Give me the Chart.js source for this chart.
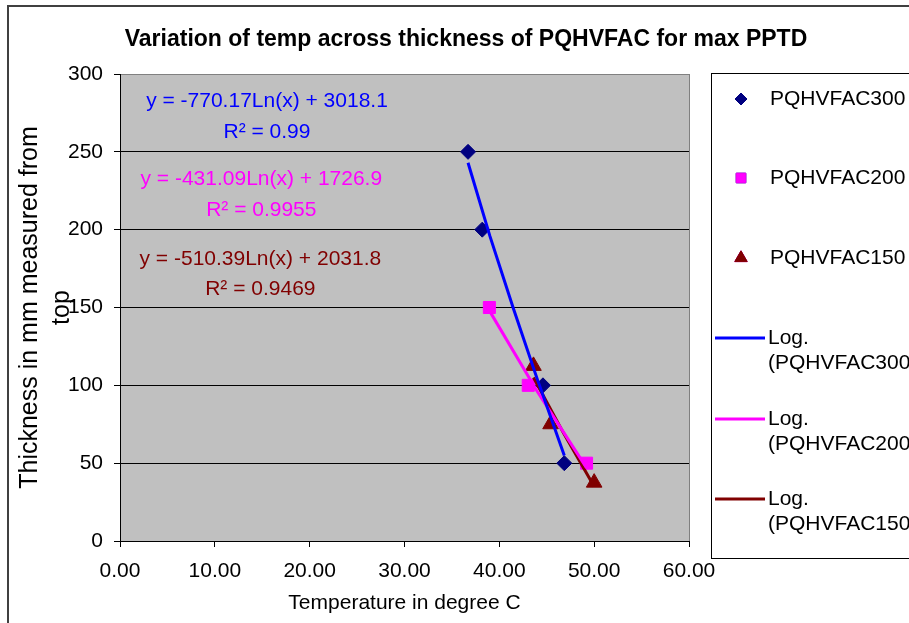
<!DOCTYPE html>
<html lang="en">
<head>
<meta charset="UTF-8">
<title>Variation of temp across thickness of PQHVFAC for max PPTD</title>
<script src="https://cdn.jsdelivr.net/npm/chart.js@4.4.0/dist/chart.umd.min.js"></script>
<style>
    body { margin: 0; background: #fff; }
    #wrap { width: 909px; height: 623px; }
</style>
</head>
<body>
<div id="wrap"><canvas id="chart" width="909" height="623"></canvas></div>
<script>
// measured points (temperature in degree C, depth in mm)
const temp300 = [36.7, 38.2, 44.6, 46.85];
const depth300 = [250, 200, 100, 50];
const temp200 = [38.95, 43.05, 49.2];
const depth200 = [150, 100, 50];
const temp150 = [43.6, 45.4, 50.0];
const depth150 = [112.5, 75, 37.5];

// log trendlines
const trendTemp300 = [36.7, 39.0, 41.5, 44.0, 46.85];
const trendDepth300 = [243, 196, 149, 104, 55];
const trendTemp200 = [38.95, 44.0, 49.2];
const trendDepth200 = [148, 96, 47];
const trendTemp150 = [43.6, 46.8, 50.0];
const trendDepth150 = [105, 69, 35];

const seriesNames = ['PQHVFAC300', 'PQHVFAC200', 'PQHVFAC150'];
const trendNames = ['Log. (PQHVFAC300)', 'Log. (PQHVFAC200)', 'Log. (PQHVFAC150)'];
const equations = ['y = -770.17Ln(x) + 3018.1', 'y = -431.09Ln(x) + 1726.9', 'y = -510.39Ln(x) + 2031.8'];
const rSquared = ['R² = 0.99', 'R² = 0.9955', 'R² = 0.9469'];

const xMin = 0, xMax = 60, xStep = 10;
const yMin = 0, yMax = 300, yStep = 50;

const FONT = "'Liberation Sans', Arial, sans-serif";
Chart.defaults.font.family = FONT;
Chart.defaults.color = '#000';

function pts(xs, ys) {
    return xs.map((x, i) => ({ x: x, y: ys[i] }));
}

// grey plot area, outer frame
const backdrop = {
    id: 'backdrop',
    beforeDraw(chart) {
        const ctx = chart.ctx, a = chart.chartArea;
        ctx.save();
        ctx.fillStyle = '#fff';
        ctx.fillRect(0, 0, chart.width, chart.height);
        ctx.strokeStyle = '#404040';
        ctx.lineWidth = 2;
        ctx.strokeRect(8, 6, 1200, 1200);
        ctx.fillStyle = '#c0c0c0';
        ctx.fillRect(a.left, a.top, a.right - a.left, a.bottom - a.top);
        ctx.restore();
    },
    afterDatasetsDraw(chart) {
        const ctx = chart.ctx, a = chart.chartArea;
        ctx.save();
        ctx.strokeStyle = '#808080';
        ctx.lineWidth = 1;
        ctx.beginPath();
        ctx.moveTo(a.right + 0.5, a.top);
        ctx.lineTo(a.right + 0.5, a.bottom);
        ctx.stroke();
        ctx.restore();
    }
};

// trendline equations
const eqLabels = {
    id: 'eqLabels',
    afterDatasetsDraw(chart, args, opts) {
        const ctx = chart.ctx;
        const xs = chart.scales.x, ys = chart.scales.y;
        ctx.save();
        ctx.font = '21px ' + FONT;
        ctx.textAlign = 'center';
        ctx.textBaseline = 'middle';
        opts.items.forEach((it, i) => {
            ctx.fillStyle = opts.colors[i];
            const cx = xs.getPixelForValue(it.x);
            ctx.fillText(equations[i], cx, ys.getPixelForValue(it.y1));
            ctx.fillText(rSquared[i], cx, ys.getPixelForValue(it.y2));
        });
        ctx.restore();
    }
};

// chart title and the boxed legend on the right
const frame = {
    id: 'frame',
    afterDraw(chart) {
        const ctx = chart.ctx;
        ctx.save();
        ctx.fillStyle = '#000';
        ctx.font = 'bold 23px ' + FONT;
        ctx.textAlign = 'center';
        ctx.textBaseline = 'middle';
        ctx.fillText('Variation of temp across thickness of PQHVFAC for max PPTD', 466, 40);

        ctx.strokeStyle = '#000';
        ctx.lineWidth = 1;
        ctx.strokeRect(711.5, 73.5, 300, 485);

        ctx.font = '21px ' + FONT;
        ctx.textAlign = 'left';
        const rows = [99, 178, 258, 338, 419, 499];
        chart.data.datasets.forEach((ds, i) => {
            const y = rows[i];
            if (ds.showLine) {
                ctx.strokeStyle = ds.borderColor;
                ctx.lineWidth = 3;
                ctx.beginPath();
                ctx.moveTo(715, y);
                ctx.lineTo(765, y);
                ctx.stroke();
                const parts = ds.label.split(' ');
                ctx.fillStyle = '#000';
                ctx.fillText(parts[0], 768, y);
                ctx.fillText(parts[1], 768, y + 25);
            } else {
                Chart.helpers.drawPoint(ctx, {
                    pointStyle: ds.pointStyle,
                    radius: ds.pointRadius * 0.8,
                    rotation: 0,
                    borderWidth: 1
                }, 741, y);
                ctx.fillStyle = ds.backgroundColor;
                ctx.strokeStyle = ds.borderColor;
                ctx.fill();
                ctx.stroke();
                ctx.fillStyle = '#000';
                ctx.fillText(ds.label, 770, y);
            }
        });
        ctx.restore();
    }
};

const markerColors = ['#000080', '#ff00ff', '#800000'];
const lineColors = ['#0000ff', '#ff00ff', '#800000'];

new Chart(document.getElementById('chart'), {
    type: 'scatter',
    data: {
        datasets: [
            { label: seriesNames[0], data: pts(temp300, depth300), pointStyle: 'rectRot', pointRadius: 7.5,
              backgroundColor: markerColors[0], borderColor: markerColors[0], showLine: false, order: 2 },
            { label: seriesNames[1], data: pts(temp200, depth200), pointStyle: 'rect', pointRadius: 8.5,
              backgroundColor: markerColors[1], borderColor: markerColors[1], showLine: false, order: 2 },
            { label: seriesNames[2], data: pts(temp150, depth150), pointStyle: 'triangle', pointRadius: 9,
              backgroundColor: markerColors[2], borderColor: markerColors[2], showLine: false, order: 2 },
            { label: trendNames[0], data: pts(trendTemp300, trendDepth300), showLine: true, pointRadius: 0,
              borderColor: lineColors[0], borderWidth: 3, order: 1 },
            { label: trendNames[1], data: pts(trendTemp200, trendDepth200), showLine: true, pointRadius: 0,
              borderColor: lineColors[1], borderWidth: 3, order: 1 },
            { label: trendNames[2], data: pts(trendTemp150, trendDepth150), showLine: true, pointRadius: 0,
              borderColor: lineColors[2], borderWidth: 3, order: 1 }
        ]
    },
    options: {
        responsive: false,
        animation: false,
        events: [],
        layout: { padding: { top: 74, right: 220, left: 0, bottom: 0 } },
        plugins: {
            legend: { display: false },
            tooltip: { enabled: false },
            eqLabels: {
                colors: lineColors,
                items: [
                    { x: 15.5, y1: 282.5, y2: 262.5 },
                    { x: 14.9, y1: 232.5, y2: 212.5 },
                    { x: 14.8, y1: 181, y2: 162 }
                ]
            }
        },
        scales: {
            x: {
                type: 'linear', min: xMin, max: xMax,
                afterFit(s) { s.height = 82; },
                ticks: { stepSize: xStep, padding: 12, font: { size: 21 },
                         callback: v => v.toFixed(2) },
                grid: { drawOnChartArea: false, tickLength: 6, tickColor: '#000' },
                border: { color: '#000', width: 1 },
                title: { display: true, text: 'Temperature in degree C', font: { size: 21 },
                         padding: { top: 0, bottom: 7 } }
            },
            y: {
                type: 'linear', min: yMin, max: yMax,
                afterFit(s) { s.width = 120; },
                ticks: { stepSize: yStep, padding: 11, font: { size: 21 } },
                grid: {
                    tickLength: 6, tickColor: '#000',
                    color: c => (c.tick && c.tick.value === yMax) ? '#808080' : '#000'
                },
                border: { color: '#000', width: 1 },
                title: { display: true, text: ['Thickness in mm measured from', 'top'],
                         font: { size: 25, lineHeight: 1.28 }, padding: { top: 14, bottom: 0 } }
            }
        }
    },
    plugins: [backdrop, eqLabels, frame]
});
</script>
</body>
</html>
